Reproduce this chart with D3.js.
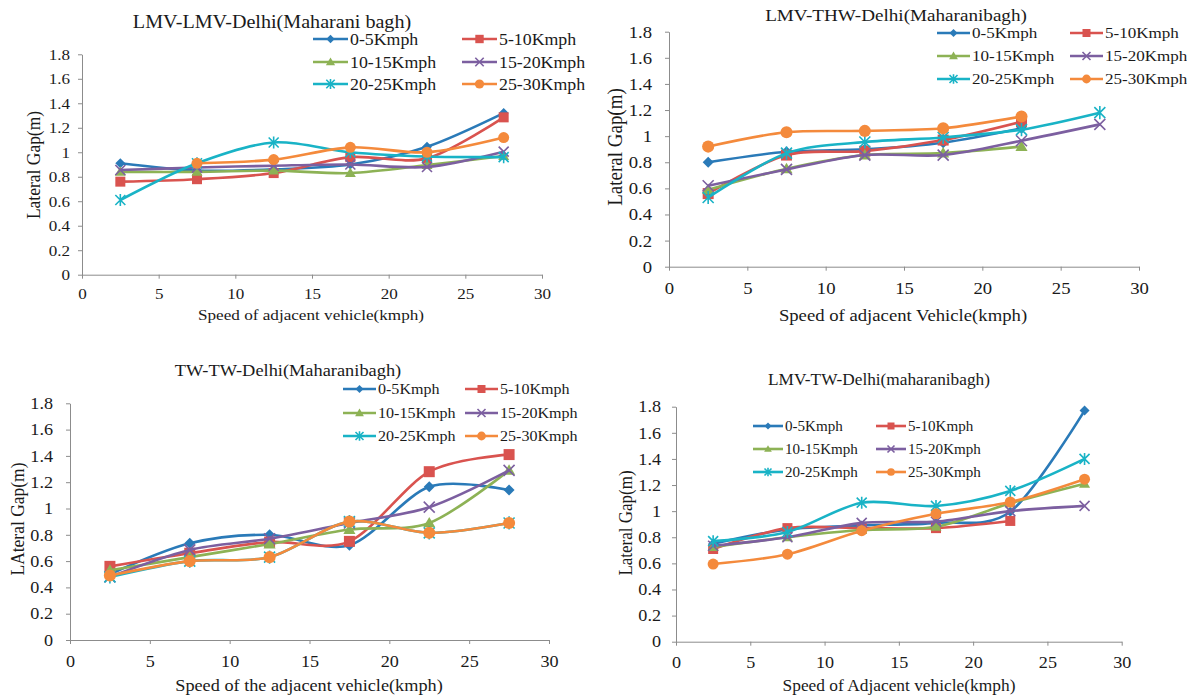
<!DOCTYPE html>
<html>
<head>
<meta charset="utf-8">
<script src="https://cdn.jsdelivr.net/npm/d3@7"></script>
<style>
  body { margin: 0; background: #fff; }
  svg text { font-family: "Liberation Serif", "Times New Roman", Times, serif; }
</style>
</head>
<body>
<svg id="chart" width="1187" height="696"></svg>
<script>
// speeds of the subject vehicle (x positions) and the speed classes (series)
const speeds = [2.5, 7.5, 12.5, 17.5, 22.5, 27.5];
const seriesNames = ["0-5Kmph", "5-10Kmph", "10-15Kmph", "15-20Kmph", "20-25Kmph", "25-30Kmph"];
const xTicks = [0, 5, 10, 15, 20, 25, 30];
const yTicks = [0, 0.2, 0.4, 0.6, 0.8, 1, 1.2, 1.4, 1.6, 1.8];

// lateral gap (m), one row per series
const lmvLmvGap = [
  [0.91, 0.85, 0.86, 0.90, 1.045, 1.32],
  [0.76, 0.78, 0.83, 0.96, 0.95, 1.285],
  [0.84, 0.84, 0.85, 0.83, 0.895, 0.97],
  [0.855, 0.875, 0.89, 0.90, 0.88, 1.005],
  [0.61, 0.91, 1.08, 1.00, 0.965, 0.96],
  [null, 0.91, 0.94, 1.04, 1.00, 1.12]
];
const lmvThwGap = [
  [0.80, 0.88, 0.90, 0.95, 1.06, null],
  [0.56, 0.855, 0.885, 0.97, 1.11, null],
  [0.59, 0.75, 0.855, 0.87, 0.92, null],
  [0.62, 0.745, 0.855, 0.855, 0.965, 1.09],
  [0.53, 0.87, 0.955, 0.99, 1.05, 1.18],
  [0.92, 1.03, 1.04, 1.06, 1.15, null]
];
const twTwGap = [
  [0.50, 0.735, 0.80, 0.72, 1.165, 1.14],
  [0.56, 0.66, 0.745, 0.75, 1.28, 1.41],
  [0.53, 0.63, 0.73, 0.84, 0.89, 1.29],
  [0.48, 0.685, 0.77, 0.89, 1.01, 1.29],
  [0.48, 0.60, 0.63, 0.90, 0.815, 0.89],
  [0.49, 0.60, 0.63, 0.90, 0.815, 0.89]
];
const lmvTwGap = [
  [0.75, 0.86, 0.89, 0.91, 0.995, 1.77],
  [0.71, 0.87, 0.87, 0.87, 0.925, null],
  [0.725, 0.80, 0.855, 0.88, 1.06, 1.21],
  [0.735, 0.80, 0.91, 0.92, 1.00, 1.04],
  [0.77, 0.84, 1.065, 1.04, 1.155, 1.40],
  [0.595, 0.67, 0.85, 0.98, 1.07, 1.245]
];

const colors = ["#2a7ab8", "#d9534f", "#8db255", "#7c5fa0", "#19b3c6", "#f48a3c"];
const markers = ["diamond", "square", "triangle", "times", "asterisk", "circle"];
const serif = "Liberation Serif, Times New Roman, Times, serif";
const sx = 1.1; // the original picture is a little stretched sideways

const svg = d3.select("#chart");

function drawMarker(g, type, color, r) {
  if (type === "diamond") {
    g.append("path").attr("d", `M0,${-r}L${r},0L0,${r}L${-r},0Z`).attr("fill", color);
  } else if (type === "square") {
    g.append("rect").attr("x", -r).attr("y", -r).attr("width", 2 * r).attr("height", 2 * r).attr("fill", color);
  } else if (type === "triangle") {
    g.append("path").attr("d", `M0,${-r * 1.1}L${r * 1.1},${r * 0.8}L${-r * 1.1},${r * 0.8}Z`).attr("fill", color);
  } else if (type === "circle") {
    g.append("circle").attr("r", r * 1.1).attr("fill", color);
  } else if (type === "times") {
    g.append("path").attr("d", `M${-r},${-r}L${r},${r}M${-r},${r}L${r},${-r}`)
      .attr("stroke", color).attr("stroke-width", 1.6).attr("fill", "none");
  } else if (type === "asterisk") {
    g.append("path").attr("d", `M${-r},${-r}L${r},${r}M${-r},${r}L${r},${-r}M0,${-r * 1.2}L0,${r * 1.2}`)
      .attr("stroke", color).attr("stroke-width", 1.6).attr("fill", "none");
  }
}

function label(g, x, y, size, text, anchor) {
  return g.append("text").attr("transform", `translate(${x},${y}) scale(${sx},1)`)
    .attr("text-anchor", anchor || "middle").attr("font-size", size)
    .attr("fill", "#1a1a1a").text(text);
}

function drawPanel(p) {
  const x = d3.scaleLinear().domain([0, 30]).range([p.left, p.right]);
  const y = d3.scaleLinear().domain([0, 1.8]).range([p.bottom, p.top]);
  const g = svg.append("g").attr("font-family", serif);

  // axes
  const yAxis = g.append("g").attr("transform", `translate(${p.left},0)`)
    .call(d3.axisLeft(y).tickValues(yTicks).tickSize(4).tickSizeOuter(0).tickPadding(p.yPad)
      .tickFormat(d => +d.toFixed(1)));
  const xAxis = g.append("g").attr("transform", `translate(0,${p.bottom})`)
    .call(d3.axisBottom(x).tickValues(xTicks).tickSize(4).tickSizeOuter(0).tickPadding(p.xPad));
  [yAxis, xAxis].forEach(a => {
    a.attr("font-family", serif).attr("font-size", p.tickSize);
    a.select(".domain").attr("stroke", "#8c8c8c");
    a.selectAll(".tick line").attr("stroke", "#8c8c8c");
    a.selectAll(".tick text").attr("fill", "#1a1a1a")
      .attr("x", function () { return +d3.select(this).attr("x") / sx; })
      .attr("transform", `scale(${sx},1)`);
  });

  // series
  const line = d3.line()
    .defined(d => d[1] !== null)
    .x(d => x(d[0])).y(d => y(d[1]))
    .curve(d3.curveCardinal.tension(0.1));
  p.data.forEach((vals, i) => {
    const pts = speeds.map((s, k) => [s, vals[k]]);
    g.append("path").datum(pts).attr("d", line)
      .attr("fill", "none").attr("stroke", colors[i]).attr("stroke-width", 2.6);
    pts.filter(d => d[1] !== null).forEach(d => {
      const m = g.append("g").attr("transform", `translate(${x(d[0])},${y(d[1])})`);
      drawMarker(m, markers[i], colors[i], p.markR);
    });
  });

  // title and axis titles
  label(g, p.title.x, p.title.y, p.title.size, p.title.text);
  label(g, p.xLabel.x, p.xLabel.y, p.xLabel.size, p.xLabel.text);
  g.append("text").attr("transform", `translate(${p.yLabel.x},${p.yLabel.y}) rotate(-90) scale(1,${sx})`)
    .attr("text-anchor", "middle").attr("dy", "0.35em")
    .attr("font-size", p.yLabel.size).attr("fill", "#1a1a1a").text(p.yLabel.text);

  // legend: 2 columns, 3 rows
  seriesNames.forEach((name, i) => {
    const col = i % 2, row = Math.floor(i / 2);
    const lx = p.legend.cols[col], ly = p.legend.rows[row];
    const lg = g.append("g");
    lg.append("line").attr("x1", lx).attr("x2", lx + p.legend.len).attr("y1", ly).attr("y2", ly)
      .attr("stroke", colors[i]).attr("stroke-width", 2.6);
    const m = lg.append("g").attr("transform", `translate(${lx + p.legend.len / 2},${ly})`);
    drawMarker(m, markers[i], colors[i], p.legend.markR);
    label(lg, lx + p.legend.len + 2, ly, p.legend.size, name, "start").attr("dy", "0.35em");
  });
}

drawPanel({
  data: lmvLmvGap, left: 82, right: 542, top: 54.3, bottom: 274.7,
  tickSize: 15.5, yPad: 8, xPad: 9, markR: 5,
  title: { text: "LMV-LMV-Delhi(Maharani bagh)", x: 272, y: 28, size: 18.3 },
  xLabel: { text: "Speed of adjacent vehicle(kmph)", x: 311, y: 320, size: 15.6 },
  yLabel: { text: "Lateral Gap(m)", x: 33, y: 165, size: 17.5 },
  legend: { cols: [313, 462], rows: [39, 62, 84], len: 35, size: 16.2, markR: 4.2 }
});

drawPanel({
  data: lmvThwGap, left: 669, right: 1139, top: 31.7, bottom: 266.7,
  tickSize: 17, yPad: 13, xPad: 11, markR: 5.5,
  title: { text: "LMV-THW-Delhi(Maharanibagh)", x: 896, y: 21, size: 17.4 },
  xLabel: { text: "Speed of adjacent Vehicle(kmph)", x: 903, y: 321, size: 17 },
  yLabel: { text: "Lateral Gap(m)", x: 615, y: 147, size: 19 },
  legend: { cols: [937, 1070], rows: [33, 56, 79], len: 33, size: 15.5, markR: 4 }
});

drawPanel({
  data: twTwGap, left: 70, right: 549, top: 403.3, bottom: 640,
  tickSize: 16.5, yPad: 13, xPad: 11, markR: 5.5,
  title: { text: "TW-TW-Delhi(Maharanibagh)", x: 288, y: 376, size: 16.7 },
  xLabel: { text: "Speed of the adjacent vehicle(kmph)", x: 309, y: 691, size: 16.6 },
  yLabel: { text: "LAteral Gap(m)", x: 17, y: 519, size: 17.5 },
  legend: { cols: [343, 465], rows: [389, 413, 436], len: 33, size: 14.6, markR: 4 }
});

drawPanel({
  data: lmvTwGap, left: 676, right: 1121.7, top: 406.7, bottom: 641.7,
  tickSize: 16.5, yPad: 11, xPad: 11, markR: 5,
  title: { text: "LMV-TW-Delhi(maharanibagh)", x: 879, y: 385, size: 15.7 },
  xLabel: { text: "Speed of Adjacent vehicle(kmph)", x: 899, y: 691, size: 15.8 },
  yLabel: { text: "Lateral Gap(m)", x: 625, y: 523, size: 17 },
  legend: { cols: [753, 876], rows: [426, 449, 472], len: 30, size: 13.7, markR: 3.5 }
});
</script>
</body>
</html>
